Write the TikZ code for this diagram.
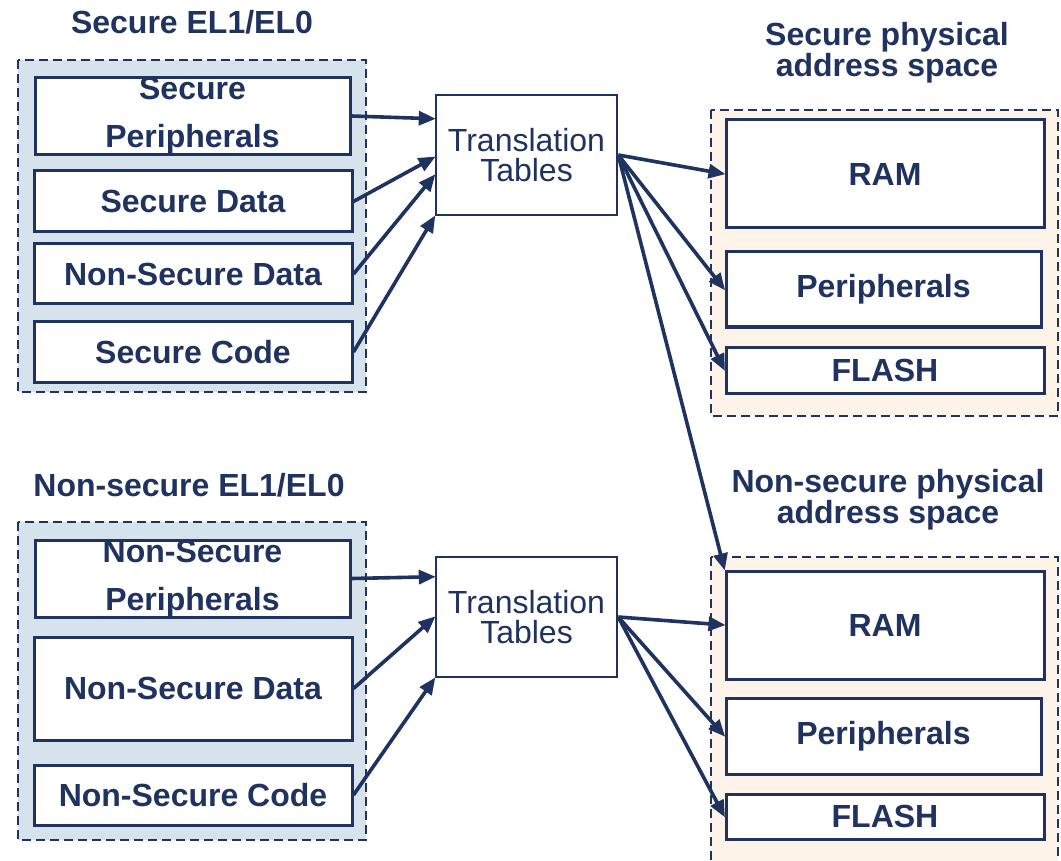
\documentclass[tikz,border=0pt]{standalone}
\usepackage{fontspec}
\setmainfont{Liberation Sans}
\usetikzlibrary{arrows.meta,calc}

\definecolor{navy}{RGB}{31,50,96}
\definecolor{secfill}{RGB}{214,227,236}
\definecolor{physfill}{RGB}{253,243,233}

\tikzset{
  region/.style={draw=navy, line width=2.5pt, dash pattern=on 9pt off 5pt},
  memblock/.style={draw=navy, fill=white, line width=3pt, inner sep=0pt,
    text=navy, font=\fontsize{32}{48}\selectfont\bfseries, align=center},
  ttbox/.style={draw=navy, fill=white, line width=2.5pt, inner sep=0pt,
    text=navy, font=\fontsize{32}{30}\selectfont, align=center,
    minimum width=181pt, minimum height=120pt},
  heading/.style={text=navy, inner sep=0pt, align=center,
    font=\fontsize{32}{31}\selectfont\bfseries},
  link/.style={draw=navy, line width=3.6pt,
    -{Triangle[length=17pt,width=14pt]}, shorten >=-1pt}
}

\begin{document}
\begin{tikzpicture}[x=1pt, y=-1pt]
\useasboundingbox (0,0) rectangle (1061,861);
\clip (0,0) rectangle (1061,861);

% ---- address-space regions -------------------------------------------
\path[region, fill=secfill]  (18,60)   rectangle (366,392);
\path[region, fill=secfill]  (18,522)  rectangle (366,840);
\path[region, fill=physfill] (711,110) rectangle (1058,416);
\path[region, fill=physfill] (711,557) rectangle (1058,890);

% ---- headings ---------------------------------------------------------
\node[heading] (hs)  at (192,22)  {Secure EL1/EL0};
\node[heading] (hns) at (189,485) {Non-secure EL1/EL0};
\node[heading] (hps) at (887,53)  {Secure physical\\address space};
\node[heading] (hpn) at (888,500) {Non-secure physical\\address space};

% ---- secure world memory views ----------------------------------------
\node[memblock, minimum width=315pt, minimum height=76pt] (sp)  at (192.5,116) {Secure\\Peripherals};
\node[memblock, minimum width=318pt, minimum height=61pt] (sd)  at (193,201.5) {Secure Data};
\node[memblock, minimum width=318pt, minimum height=60pt] (nsd) at (193,274)   {Non-Secure Data};
\node[memblock, minimum width=318pt, minimum height=60pt] (sc)  at (193,352)   {Secure Code};

% ---- non-secure world memory views ------------------------------------
\node[memblock, minimum width=315pt, minimum height=77pt]  (nsp)  at (192.5,578.5) {Non-Secure\\Peripherals};
\node[memblock, minimum width=318pt, minimum height=103pt] (nsdd) at (193,688.5)   {Non-Secure Data};
\node[memblock, minimum width=318pt, minimum height=60pt]  (nsc)  at (193,795)     {Non-Secure Code};

% ---- translation tables -----------------------------------------------
\node[ttbox] (tt1) at (526.5,155) {Translation\\Tables};
\node[ttbox] (tt2) at (526.5,617) {Translation\\Tables};

% ---- physical memory ----------------------------------------------------
\node[memblock, minimum width=318pt, minimum height=108pt] (ram1) at (885,174)   {RAM};
\node[memblock, minimum width=315pt, minimum height=75pt]  (per1) at (883.5,289.5) {Peripherals};
\node[memblock, minimum width=318pt, minimum height=46pt]  (fl1)  at (885,370)   {FLASH};

\node[memblock, minimum width=318pt, minimum height=108pt] (ram2) at (885,625)   {RAM};
\node[memblock, minimum width=315pt, minimum height=76pt]  (per2) at (883.5,736) {Peripherals};
\node[memblock, minimum width=318pt, minimum height=45pt]  (fl2)  at (885,816.5) {FLASH};

% ---- secure side connectors ------------------------------------------
\draw[link] (sp.east)  -- ([yshift=-25pt]tt1.north west);
\draw[link] (sd.east)  -- ([yshift=-2pt]tt1.west);
\draw[link] (nsd.east) -- ([yshift=-20pt]tt1.west);
\draw[link] (sc.east)  -- (tt1.south west);

\draw[link] (tt1.east) -- (ram1.west);
\draw[link] (tt1.east) -- (per1.west);
\draw[link] (tt1.east) -- (fl1.west);
\draw[link] (tt1.east) -- (ram2.north west);

% ---- non-secure side connectors --------------------------------------
\draw[link] (nsp.east)  -- ([yshift=-21pt]tt2.north west);
\draw[link] (nsdd.east) -- (tt2.west);
\draw[link] (nsc.east)  -- (tt2.south west);

\draw[link] (tt2.east) -- (ram2.west);
\draw[link] (tt2.east) -- (per2.west);
\draw[link] (tt2.east) -- (fl2.west);
\end{tikzpicture}
\end{document}
